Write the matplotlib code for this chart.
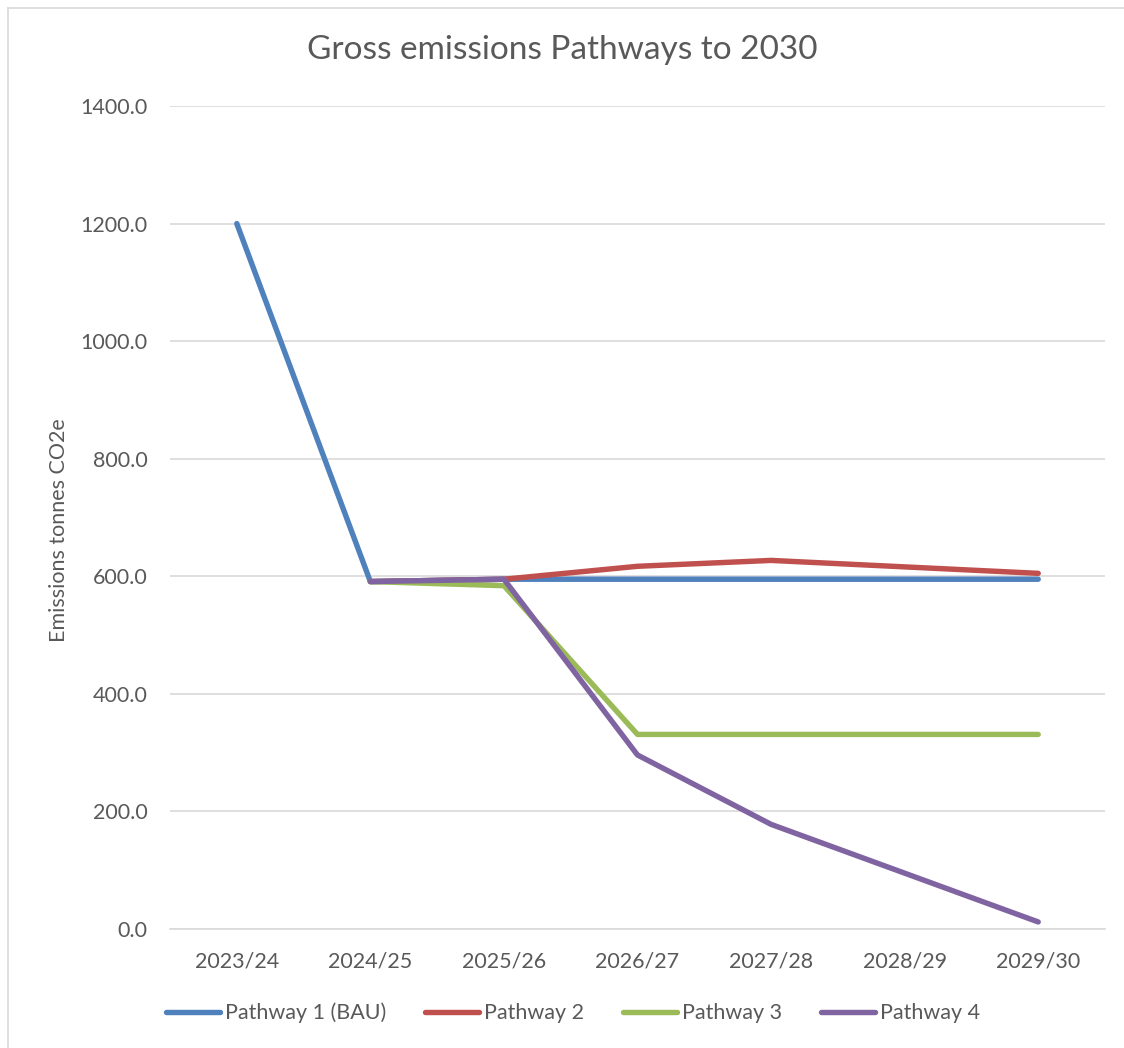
import matplotlib
matplotlib.use("Agg")
import matplotlib.pyplot as plt
from matplotlib.lines import Line2D

categories = ["2023/24", "2024/25", "2025/26", "2026/27", "2027/28", "2028/29", "2029/30"]
pathway1 = [1200.0, 591.0, 595.0, 595.0, 595.0, 595.0, 595.0]
pathway2 = [None, 591.0, 595.0, 617.0, 627.0, 616.0, 605.0]
pathway3 = [None, 591.0, 584.0, 331.0, 331.0, 331.0, 331.0]
pathway4 = [None, 591.0, 595.0, 296.0, 178.0, 95.0, 12.0]
series_names = ["Pathway 1 (BAU)", "Pathway 2", "Pathway 3", "Pathway 4"]
colors = ["#4F81BD", "#C0504D", "#9BBB59", "#8064A2"]
yticks = [0, 200, 400, 600, 800, 1000, 1200, 1400]

plt.rcParams['font.family'] = ['Lato', 'DejaVu Sans']

fig = plt.figure(figsize=(11.24, 10.48), dpi=100)
ax = fig.add_axes([170/1124, 1 - 929/1048, (1105-170)/1124, (929-106)/1048])

x = list(range(len(categories)))
for name, vals, c in zip(series_names, [pathway1, pathway2, pathway3, pathway4], colors):
    xs = [xi for xi, v in zip(x, vals) if v is not None]
    ys = [v for v in vals if v is not None]
    ax.plot(xs, ys, color=c, lw=3.9, label=name, solid_capstyle='round', solid_joinstyle='round', zorder=3)

ax.set_xlim(-0.5, len(categories) - 0.5)
ax.set_ylim(0, 1400)
ax.set_yticks(yticks)
ax.set_yticklabels([f"{v:.1f}" for v in yticks])
ax.set_xticks(x)
ax.set_xticklabels(categories)
ax.grid(axis='y', color='#d9d9d9', lw=1.2, zorder=0)
for s in ['top', 'right', 'left']:
    ax.spines[s].set_visible(False)
ax.spines['bottom'].set_color('#d9d9d9')
ax.spines['bottom'].set_linewidth(1.2)
ax.tick_params(axis='both', length=0, colors='#595959', labelsize=15.5)
ax.tick_params(axis='x', pad=16)
ax.tick_params(axis='y', pad=16)

ax.set_ylabel("Emissions tonnes CO2e", fontsize=15.5, color='#595959')
ax.yaxis.set_label_coords(-0.108, 0.485)
fig.text(0.5, 1 - 50/1048, "Gross emissions Pathways to 2030", ha='center', va='center',
         fontsize=24, color='#595959')

handles = [Line2D([0], [0], color=c, lw=3.9, solid_capstyle='round') for c in colors]
fig.legend(handles, series_names, loc='center', bbox_to_anchor=(0.51, 1 - 1013/1048),
           ncol=4, frameon=False, fontsize=15.5, labelcolor='#595959',
           handlelength=2.5, handletextpad=0.25, columnspacing=1.8)

# chart border (light grey)
fig.add_artist(Line2D([8/1124, 8/1124], [0, 1 - 8/1048], color='#d9d9d9', lw=1.2, transform=fig.transFigure))
fig.add_artist(Line2D([8/1124, 1], [1 - 8/1048, 1 - 8/1048], color='#d9d9d9', lw=1.2, transform=fig.transFigure))

fig.savefig("out.png", dpi=100)
